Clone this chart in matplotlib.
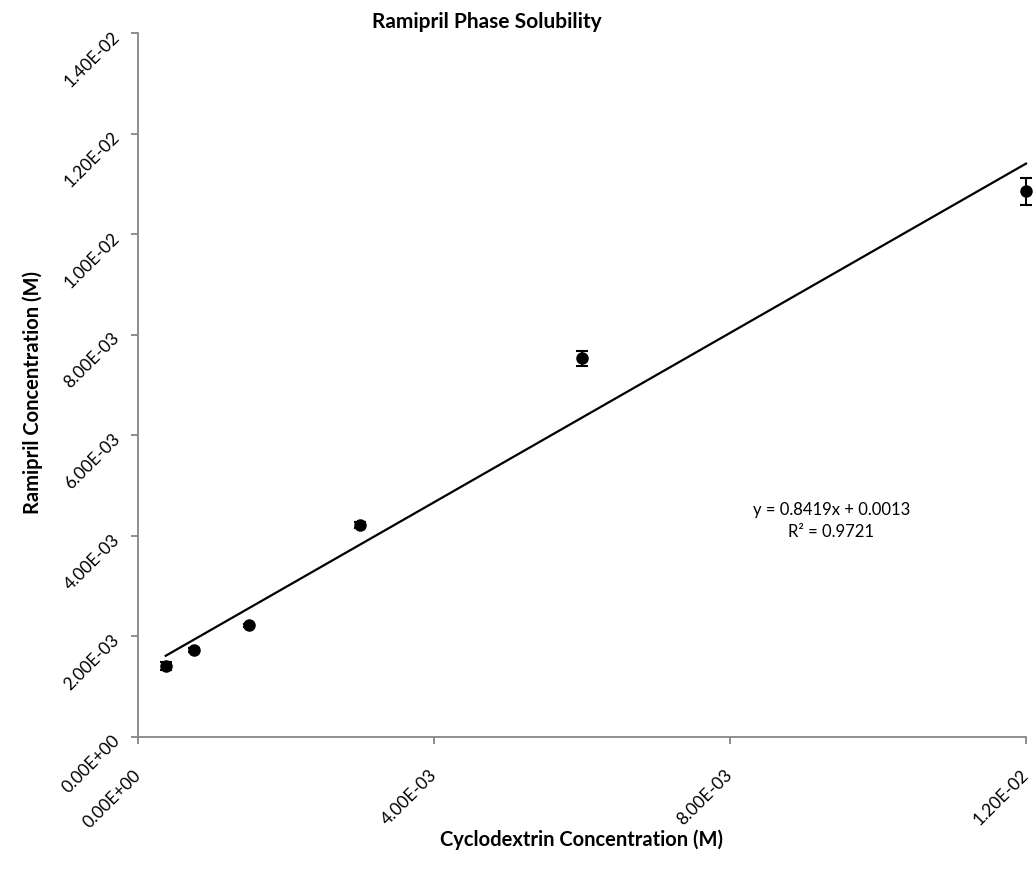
import matplotlib
matplotlib.use("Agg")
import matplotlib.pyplot as plt
import numpy as np

plt.rcParams['font.family'] = ['Lato', 'DejaVu Sans']

cd_conc = [0.000375, 0.00075, 0.0015, 0.003, 0.006, 0.012]
ram_conc = [0.00141, 0.00173, 0.00222, 0.00421, 0.00753, 0.01085]
ram_err = [0.00008, 0.00003, 0.00003, 0.00006, 0.00015, 0.00027]
slope = 0.8419
intercept = 0.0013
r2 = 0.9721
x_ticks = [0.0, 0.004, 0.008, 0.012]
x_ticklabels = ["0.00E+00", "4.00E-03", "8.00E-03", "1.20E-02"]
y_ticks = [0.0, 0.002, 0.004, 0.006, 0.008, 0.010, 0.012, 0.014]
y_ticklabels = ["0.00E+00", "2.00E-03", "4.00E-03", "6.00E-03", "8.00E-03",
                "1.00E-02", "1.20E-02", "1.40E-02"]

W, H = 1033, 879
fig = plt.figure(figsize=(W/100, H/100), dpi=100)
ax = fig.add_axes([138/W, 1-738/H, (1026-138)/W, (738-34)/H])

ax.errorbar(cd_conc, ram_conc, yerr=ram_err, fmt='o', color='black',
            markersize=8, capsize=4.5, elinewidth=1.4, capthick=1.5, clip_on=False, zorder=3)
xl = np.array([min(cd_conc), max(cd_conc)])
ax.plot(xl, slope*xl + intercept, color='black', lw=1.6, clip_on=False)

ax.set_xlim(0, 0.012)
ax.set_ylim(0, 0.014)
ax.set_xticks(x_ticks)
ax.set_yticks(y_ticks)
ax.set_xticklabels(x_ticklabels, rotation=45, ha='right', va='center', rotation_mode='anchor', fontsize=12.5)
ax.set_yticklabels(y_ticklabels, rotation=45, ha='right', va='center', rotation_mode='anchor', fontsize=12.5)
for s in ['top', 'right']:
    ax.spines[s].set_visible(False)
for s in ['left', 'bottom']:
    ax.spines[s].set_color('#868686')
    ax.spines[s].set_linewidth(1.3)
ax.tick_params(axis='both', direction='out', length=5, width=1.3, color='#868686')
ax.tick_params(axis='x', pad=20)
ax.tick_params(axis='y', pad=10)

fig.text(487/W, 1-28/H, "Ramipril Phase Solubility", ha='center', va='baseline',
         fontsize=15, fontweight='bold')
fig.text(582/W, 1-840/H, "Cyclodextrin Concentration (M)", ha='center', va='center',
         fontsize=14.5, fontweight='bold')
fig.text(33/W, 1-392/H, "Ramipril Concentration (M)", ha='center', va='center',
         fontsize=14.5, fontweight='bold', rotation=90)
ax.text(0.00937, 0.004315, f"y = {slope}x + {intercept}\nR\u00b2 = {r2}",
        ha='center', va='center', fontsize=12, linespacing=1.4)

fig.savefig("out.png", dpi=100)
